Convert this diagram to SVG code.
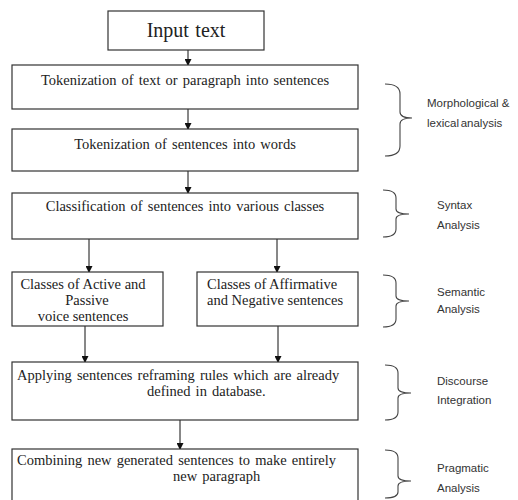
<svg xmlns="http://www.w3.org/2000/svg" width="518" height="500" viewBox="0 0 518 500">
<style>
.box{fill:#fff;stroke:#333;stroke-width:1.2}
.t{font-family:"Liberation Serif","Times New Roman",serif;font-size:14.5px;fill:#222;word-spacing:1.5px}
.c{text-anchor:middle}
.lbl{font-family:"Liberation Sans",Arial,sans-serif;font-size:11.5px;fill:#333}
.con{stroke:#111;stroke-width:1;fill:none}
.br{stroke:#444;stroke-width:1.1;fill:none}
</style>
<defs>
<marker id="ah" markerWidth="7" markerHeight="7" refX="6" refY="3.5" orient="auto" markerUnits="userSpaceOnUse">
<path d="M0,0 L7,3.5 L0,7 Z" fill="#111"/>
</marker>
</defs>
<rect width="518" height="500" fill="#fff"/>
<g id="connectors">
<line class="con" x1="188" y1="50" x2="188" y2="65" marker-end="url(#ah)"/>
<line class="con" x1="188" y1="109" x2="188" y2="129" marker-end="url(#ah)"/>
<line class="con" x1="188" y1="171" x2="188" y2="193" marker-end="url(#ah)"/>
<line class="con" x1="89" y1="239" x2="89" y2="272" marker-end="url(#ah)"/>
<line class="con" x1="277" y1="239" x2="277" y2="272" marker-end="url(#ah)"/>
<line class="con" x1="85" y1="326" x2="85" y2="362" marker-end="url(#ah)"/>
<line class="con" x1="278" y1="326" x2="278" y2="362" marker-end="url(#ah)"/>
<line class="con" x1="180" y1="420" x2="180" y2="449" marker-end="url(#ah)"/>
</g>
<g id="input">
<rect class="box" x="108" y="11" width="156" height="39"/>
<text class="t c" x="186" y="37" style="font-size:20px">Input text</text>
</g>
<g id="tok-sent">
<rect class="box" x="12" y="65" width="346" height="44"/>
<text class="t c" x="185" y="85">Tokenization of text or paragraph into sentences</text>
</g>
<g id="tok-words">
<rect class="box" x="12" y="129" width="346" height="42"/>
<text class="t c" x="185" y="149">Tokenization of sentences into words</text>
</g>
<g id="classify">
<rect class="box" x="12" y="193" width="346" height="46"/>
<text class="t c" x="185" y="211">Classification of sentences  into various classes</text>
</g>
<g id="active-passive">
<rect class="box" x="12" y="272" width="151" height="54"/>
<text class="t c" style="word-spacing:0" x="83" y="289">Classes of Active and</text>
<text class="t c" style="word-spacing:0" x="87" y="305">Passive</text>
<text class="t c" style="word-spacing:0" x="83" y="321">voice sentences</text>
</g>
<g id="affirm-neg">
<rect class="box" x="197" y="272" width="161" height="54"/>
<text class="t" style="word-spacing:0" x="207" y="289">Classes of Affirmative</text>
<text class="t" style="word-spacing:0" x="207" y="305">and Negative sentences</text>
</g>
<g id="apply">
<rect class="box" x="12" y="362" width="346" height="58"/>
<text class="t" x="17" y="380">Applying sentences reframing rules which are already</text>
<text class="t" x="147" y="396">defined in database.</text>
</g>
<g id="combine">
<rect class="box" x="12" y="449" width="346" height="56"/>
<text class="t" x="17" y="465">Combining new generated sentences to make entirely</text>
<text class="t" x="173" y="481">new paragraph</text>
</g>
<g id="brace-morph">
<path class="br" d="M385,84 Q400,84 400,94 L400,112 Q400,118 412,118 Q400,118 400,124 L400,146 Q400,156 385,156"/>
<text class="lbl" x="427" y="107">Morphological &amp;</text>
<text class="lbl" x="427" y="127" style="word-spacing:-1.5px">lexical analysis</text>
</g>
<g id="brace-syntax">
<path class="br" d="M383,190 Q396,190 396,198 L396,209 Q396,214 409,214 Q396,214 396,219 L396,229 Q396,237 383,237"/>
<text class="lbl" x="437" y="209">Syntax</text>
<text class="lbl" x="437" y="229">Analysis</text>
</g>
<g id="brace-semantic">
<path class="br" d="M383,275 Q396,275 396,283 L396,296 Q396,301 409,301 Q396,301 396,306 L396,319 Q396,327 383,327"/>
<text class="lbl" x="437" y="296">Semantic</text>
<text class="lbl" x="437" y="313">Analysis</text>
</g>
<g id="brace-discourse">
<path class="br" d="M385,365 Q398,365 398,373 L398,388 Q398,393 411,393 Q398,393 398,398 L398,412 Q398,420 385,420"/>
<text class="lbl" x="437" y="385">Discourse</text>
<text class="lbl" x="437" y="404">Integration</text>
</g>
<g id="brace-pragmatic">
<path class="br" d="M385,450 Q398,450 398,458 L398,476 Q398,481 411,481 Q398,481 398,486 L398,492 Q398,498 385,498"/>
<text class="lbl" x="437" y="472">Pragmatic</text>
<text class="lbl" x="437" y="492">Analysis</text>
</g>
</svg>
